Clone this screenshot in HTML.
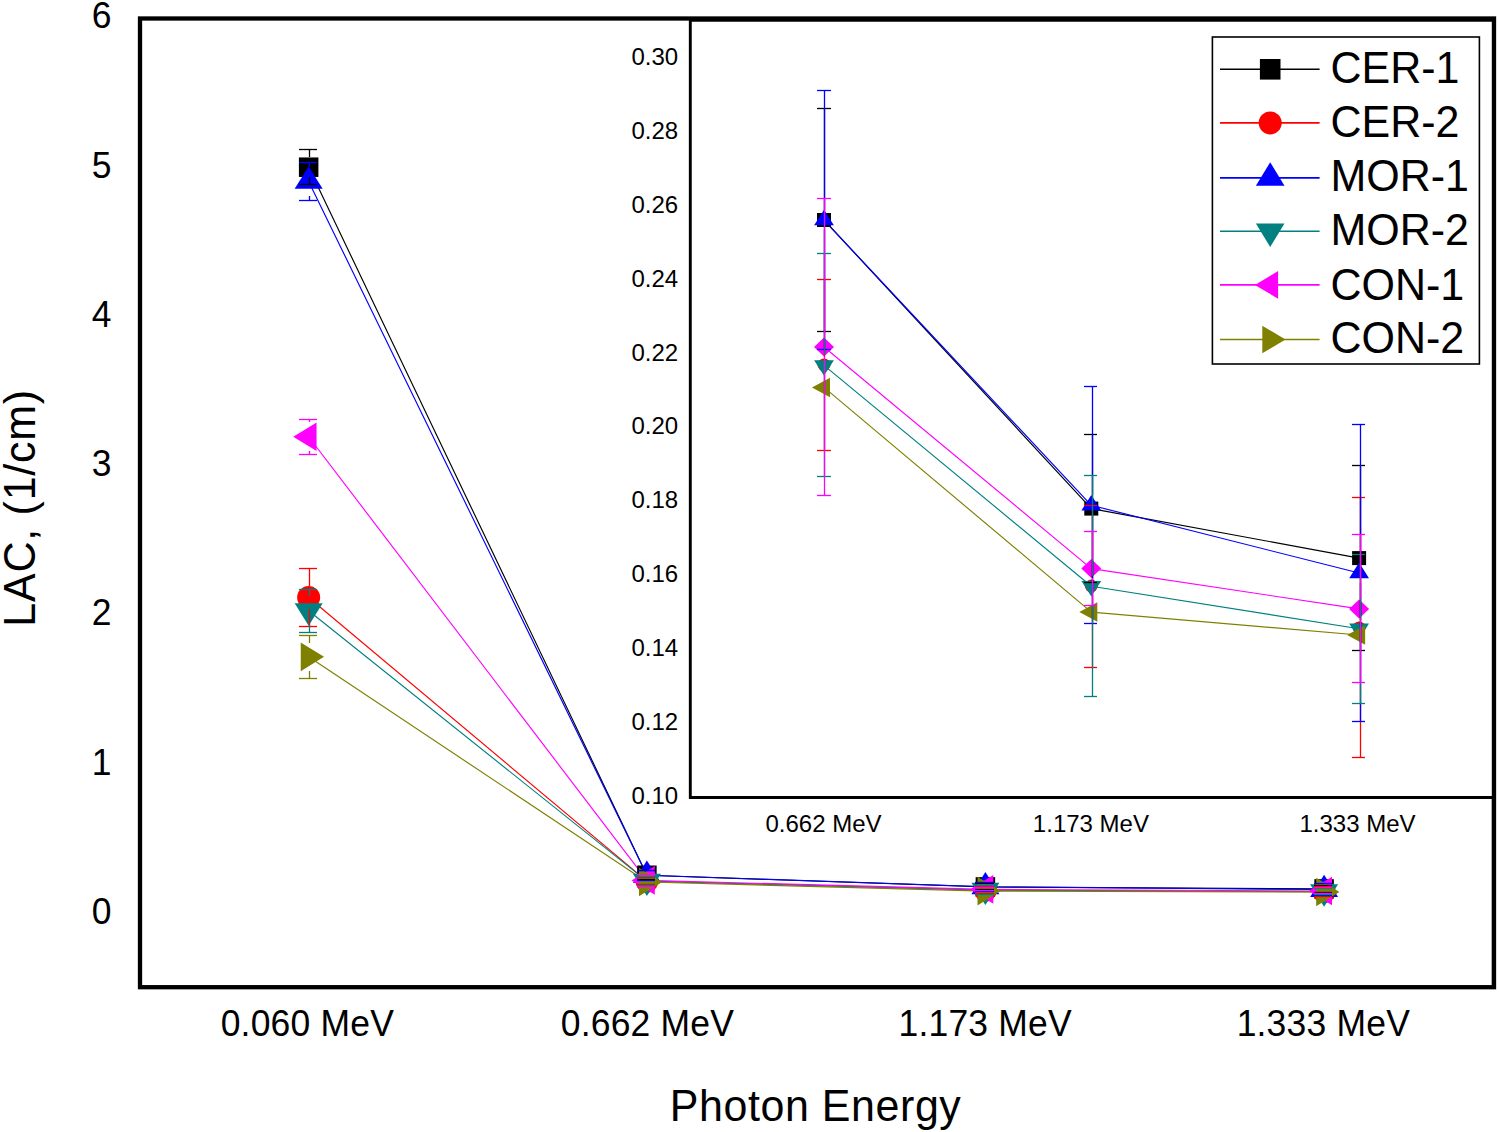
<!DOCTYPE html>
<html><head><meta charset="utf-8"><title>LAC chart</title>
<style>html,body{margin:0;padding:0;background:#fff;}body{width:1499px;height:1132px;overflow:hidden;}svg{display:block;}</style>
</head><body>
<svg width="1499" height="1132" viewBox="0 0 1499 1132">
<rect width="1499" height="1132" fill="#ffffff"/>
<text transform="translate(111.5,923.8) scale(1,1.02)" font-family='"Liberation Sans", sans-serif' font-size="35.5" text-anchor="end">0</text>
<text transform="translate(111.5,774.55) scale(1,1.02)" font-family='"Liberation Sans", sans-serif' font-size="35.5" text-anchor="end">1</text>
<text transform="translate(111.5,625.3) scale(1,1.02)" font-family='"Liberation Sans", sans-serif' font-size="35.5" text-anchor="end">2</text>
<text transform="translate(111.5,476.05) scale(1,1.02)" font-family='"Liberation Sans", sans-serif' font-size="35.5" text-anchor="end">3</text>
<text transform="translate(111.5,326.8) scale(1,1.02)" font-family='"Liberation Sans", sans-serif' font-size="35.5" text-anchor="end">4</text>
<text transform="translate(111.5,177.55) scale(1,1.02)" font-family='"Liberation Sans", sans-serif' font-size="35.5" text-anchor="end">5</text>
<text transform="translate(111.5,28.3) scale(1,1.02)" font-family='"Liberation Sans", sans-serif' font-size="35.5" text-anchor="end">6</text>
<text transform="translate(307.4,1035.9) scale(1,1.02)" font-family='"Liberation Sans", sans-serif' font-size="35.5" text-anchor="middle" letter-spacing="0.2">0.060 MeV</text>
<text transform="translate(647.45,1035.9) scale(1,1.02)" font-family='"Liberation Sans", sans-serif' font-size="35.5" text-anchor="middle" letter-spacing="0.2">0.662 MeV</text>
<text transform="translate(985.2,1035.9) scale(1,1.02)" font-family='"Liberation Sans", sans-serif' font-size="35.5" text-anchor="middle" letter-spacing="0.2">1.173 MeV</text>
<text transform="translate(1323.35,1035.9) scale(1,1.02)" font-family='"Liberation Sans", sans-serif' font-size="35.5" text-anchor="middle" letter-spacing="0.2">1.333 MeV</text>
<text transform="translate(815.6,1120.9) scale(1,1.035)" font-family='"Liberation Sans", sans-serif' font-size="43" text-anchor="middle" letter-spacing="0.55">Photon Energy</text>
<text transform="translate(35.2,507.9) rotate(-90) scale(1,1.035)" font-family='"Liberation Sans", sans-serif' font-size="43" text-anchor="middle" letter-spacing="0.75">LAC, (1/cm)</text>
<g>
<polyline points="308.65,167.2 646.9,875.27 985.4,886.93 1324.1,888.93" fill="none" stroke="#000000" stroke-width="1.15" stroke-linejoin="round"/>
<polyline points="308.65,597.5 646.9,881.12 985.4,890.05 1324.1,891.74" fill="none" stroke="#ff0000" stroke-width="1.15" stroke-linejoin="round"/>
<polyline points="308.65,181.4 646.9,875.27 985.4,886.79 1324.1,889.53" fill="none" stroke="#0000ff" stroke-width="1.15" stroke-linejoin="round"/>
<polyline points="308.65,610.8 646.9,881.14 985.4,890.06 1324.1,891.78" fill="none" stroke="#008080" stroke-width="1.15" stroke-linejoin="round"/>
<polyline points="308.65,436.75 646.9,880.4 985.4,889.35 1324.1,890.98" fill="none" stroke="#ff00ff" stroke-width="1.15" stroke-linejoin="round"/>
<polyline points="308.65,656.85 646.9,882.03 985.4,891.11 1324.1,892.03" fill="none" stroke="#808000" stroke-width="1.15" stroke-linejoin="round"/>
<rect x="298.9" y="157.45" width="19.5" height="19.5" fill="#000000"/>
<rect x="637.15" y="865.52" width="19.5" height="19.5" fill="#000000"/>
<rect x="975.65" y="877.18" width="19.5" height="19.5" fill="#000000"/>
<rect x="1314.35" y="879.18" width="19.5" height="19.5" fill="#000000"/>
<circle cx="308.65" cy="597.5" r="11.5" fill="#ff0000"/>
<circle cx="646.9" cy="881.12" r="11.5" fill="#ff0000"/>
<circle cx="985.4" cy="890.05" r="11.5" fill="#ff0000"/>
<circle cx="1324.1" cy="891.74" r="11.5" fill="#ff0000"/>
<polygon points="308.65,166.53 322.65,188.83 294.65,188.83" fill="#0000ff"/>
<polygon points="646.9,860.41 660.9,882.71 632.9,882.71" fill="#0000ff"/>
<polygon points="985.4,871.93 999.4,894.23 971.4,894.23" fill="#0000ff"/>
<polygon points="1324.1,874.66 1338.1,896.96 1310.1,896.96" fill="#0000ff"/>
<polygon points="308.65,625.67 322.65,603.37 294.65,603.37" fill="#008080"/>
<polygon points="646.9,896.01 660.9,873.71 632.9,873.71" fill="#008080"/>
<polygon points="985.4,904.93 999.4,882.63 971.4,882.63" fill="#008080"/>
<polygon points="1324.1,906.65 1338.1,884.35 1310.1,884.35" fill="#008080"/>
<polygon points="293.28,436.75 316.58,422.45 316.58,451.05" fill="#ff00ff"/>
<polygon points="631.53,880.4 654.83,866.1 654.83,894.7" fill="#ff00ff"/>
<polygon points="970.03,889.35 993.33,875.05 993.33,903.65" fill="#ff00ff"/>
<polygon points="1308.73,890.98 1332.03,876.68 1332.03,905.28" fill="#ff00ff"/>
<polygon points="324.02,656.85 300.72,642.55 300.72,671.15" fill="#808000"/>
<polygon points="662.27,882.03 638.97,867.73 638.97,896.33" fill="#808000"/>
<polygon points="1000.77,891.11 977.47,876.81 977.47,905.41" fill="#808000"/>
<polygon points="1339.47,892.03 1316.17,877.73 1316.17,906.33" fill="#808000"/>
<g stroke="#000000" stroke-width="1.3"><line x1="309.5" y1="157" x2="309.5" y2="149.5"/><line x1="299" y1="149.5" x2="317" y2="149.5"/><line x1="309.5" y1="177" x2="309.5" y2="184.5"/><line x1="299" y1="184.5" x2="317" y2="184.5"/></g>
<g stroke="#000000" stroke-width="1.3"><line x1="637" y1="870.5" x2="655" y2="870.5"/><line x1="637" y1="879.5" x2="655" y2="879.5"/></g>
<g stroke="#000000" stroke-width="1.3"><line x1="975" y1="883.5" x2="994" y2="883.5"/><line x1="975" y1="889.5" x2="994" y2="889.5"/></g>
<g stroke="#000000" stroke-width="1.3"><line x1="1314" y1="885.5" x2="1332" y2="885.5"/><line x1="1314" y1="892.5" x2="1332" y2="892.5"/></g>
<g stroke="#ff0000" stroke-width="1.3"><line x1="309.5" y1="586" x2="309.5" y2="568.5"/><line x1="299" y1="568.5" x2="317" y2="568.5"/><line x1="309.5" y1="609" x2="309.5" y2="626.5"/><line x1="299" y1="626.5" x2="317" y2="626.5"/></g>
<g stroke="#ff0000" stroke-width="1.3"><line x1="637" y1="877.5" x2="655" y2="877.5"/><line x1="637" y1="884.5" x2="655" y2="884.5"/></g>
<g stroke="#ff0000" stroke-width="1.3"><line x1="975" y1="886.5" x2="994" y2="886.5"/><line x1="975" y1="893.5" x2="994" y2="893.5"/></g>
<g stroke="#ff0000" stroke-width="1.3"><line x1="1314" y1="886.5" x2="1332" y2="886.5"/><line x1="1314" y1="896.5" x2="1332" y2="896.5"/></g>
<g stroke="#0000ff" stroke-width="1.3"><line x1="309.5" y1="167" x2="309.5" y2="162.5"/><line x1="299" y1="162.5" x2="317" y2="162.5"/><line x1="309.5" y1="196" x2="309.5" y2="200.5"/><line x1="299" y1="200.5" x2="317" y2="200.5"/></g>
<g stroke="#0000ff" stroke-width="1.3"><line x1="637" y1="870.5" x2="655" y2="870.5"/><line x1="637" y1="880.5" x2="655" y2="880.5"/></g>
<g stroke="#0000ff" stroke-width="1.3"><line x1="975" y1="882.5" x2="994" y2="882.5"/><line x1="975" y1="891.5" x2="994" y2="891.5"/></g>
<g stroke="#0000ff" stroke-width="1.3"><line x1="1314" y1="883.5" x2="1332" y2="883.5"/><line x1="1314" y1="895.5" x2="1332" y2="895.5"/></g>
<g stroke="#008080" stroke-width="1.3"><line x1="309.5" y1="596" x2="309.5" y2="589.5"/><line x1="299" y1="589.5" x2="317" y2="589.5"/><line x1="309.5" y1="625" x2="309.5" y2="632.5"/><line x1="299" y1="632.5" x2="317" y2="632.5"/></g>
<g stroke="#008080" stroke-width="1.3"><line x1="637" y1="876.5" x2="655" y2="876.5"/><line x1="637" y1="885.5" x2="655" y2="885.5"/></g>
<g stroke="#008080" stroke-width="1.3"><line x1="975" y1="885.5" x2="994" y2="885.5"/><line x1="975" y1="894.5" x2="994" y2="894.5"/></g>
<g stroke="#008080" stroke-width="1.3"><line x1="1314" y1="888.5" x2="1332" y2="888.5"/><line x1="1314" y1="894.5" x2="1332" y2="894.5"/></g>
<g stroke="#ff00ff" stroke-width="1.3"><line x1="309.5" y1="422" x2="309.5" y2="419.5"/><line x1="299" y1="419.5" x2="317" y2="419.5"/><line x1="309.5" y1="451" x2="309.5" y2="454.5"/><line x1="299" y1="454.5" x2="317" y2="454.5"/></g>
<g stroke="#ff00ff" stroke-width="1.3"><line x1="637" y1="874.5" x2="655" y2="874.5"/><line x1="637" y1="886.5" x2="655" y2="886.5"/></g>
<g stroke="#ff00ff" stroke-width="1.3"><line x1="975" y1="887.5" x2="994" y2="887.5"/><line x1="975" y1="890.5" x2="994" y2="890.5"/></g>
<g stroke="#ff00ff" stroke-width="1.3"><line x1="1314" y1="887.5" x2="1332" y2="887.5"/><line x1="1314" y1="893.5" x2="1332" y2="893.5"/></g>
<g stroke="#808000" stroke-width="1.3"><line x1="309.5" y1="643" x2="309.5" y2="635.5"/><line x1="299" y1="635.5" x2="317" y2="635.5"/><line x1="309.5" y1="671" x2="309.5" y2="678.5"/><line x1="299" y1="678.5" x2="317" y2="678.5"/></g>



</g>
<rect x="140" y="18.5" width="1354" height="968.7" fill="none" stroke="#000" stroke-width="4.3"/>
<rect x="690.3" y="20.5" width="803.7" height="777" fill="#ffffff"/>
<g font-family='"Liberation Sans", sans-serif' font-size="24" fill="#000" text-anchor="end">
<text x="678.2" y="803.6">0.10</text>
<text x="678.2" y="729.75">0.12</text>
<text x="678.2" y="655.9">0.14</text>
<text x="678.2" y="582.05">0.16</text>
<text x="678.2" y="508.2">0.18</text>
<text x="678.2" y="434.35">0.20</text>
<text x="678.2" y="360.5">0.22</text>
<text x="678.2" y="286.65">0.24</text>
<text x="678.2" y="212.8">0.26</text>
<text x="678.2" y="138.95">0.28</text>
<text x="678.2" y="65.1">0.30</text>
</g>
<g font-family='"Liberation Sans", sans-serif' font-size="24" fill="#000" text-anchor="middle">
<text x="823.55" y="831.5">0.662 MeV</text>
<text x="1090.9" y="831.5">1.173 MeV</text>
<text x="1357.55" y="831.5">1.333 MeV</text>
</g>
<polyline points="824,220 1091.3,508.6 1359.1,558.1" fill="none" stroke="#000000" stroke-width="1.15" stroke-linejoin="round"/>
<polyline points="824,220.1 1091.3,505.3 1359.1,573" fill="none" stroke="#0000ff" stroke-width="1.15" stroke-linejoin="round"/>
<polyline points="824,365.4 1091.3,586.2 1359.1,628.75" fill="none" stroke="#008080" stroke-width="1.15" stroke-linejoin="round"/>
<polyline points="824,347 1091.3,568.6 1359.1,608.9" fill="none" stroke="#ff00ff" stroke-width="1.15" stroke-linejoin="round"/>
<polyline points="824,387.4 1091.3,612.1 1359.1,635" fill="none" stroke="#808000" stroke-width="1.15" stroke-linejoin="round"/>
<rect x="817" y="213" width="14" height="14" fill="#000000"/>
<rect x="1084.3" y="501.6" width="14" height="14" fill="#000000"/>
<rect x="1352.1" y="551.1" width="14" height="14" fill="#000000"/>
<circle cx="824" cy="364.8" r="6.4" fill="#ff0000"/>
<circle cx="1091.3" cy="586" r="6.4" fill="#ff0000"/>
<circle cx="1359.1" cy="627.8" r="6.4" fill="#ff0000"/>
<polygon points="824,209.7 833.9,225.3 814.1,225.3" fill="#0000ff"/>
<polygon points="1091.3,494.9 1101.2,510.5 1081.4,510.5" fill="#0000ff"/>
<polygon points="1359.1,562.6 1369,578.2 1349.2,578.2" fill="#0000ff"/>
<polygon points="824,375.8 833.9,360.2 814.1,360.2" fill="#008080"/>
<polygon points="1091.3,596.6 1101.2,581 1081.4,581" fill="#008080"/>
<polygon points="1359.1,639.15 1369,623.55 1349.2,623.55" fill="#008080"/>
<polygon points="824,337.5 834,347 824,356.5 814,347" fill="#ff00ff"/>
<polygon points="1091.3,559.1 1101.3,568.6 1091.3,578.1 1081.3,568.6" fill="#ff00ff"/>
<polygon points="1359.1,599.4 1369.1,608.9 1359.1,618.4 1349.1,608.9" fill="#ff00ff"/>
<polygon points="812,387.4 830,377.65 830,397.15" fill="#808000"/>
<polygon points="1079.3,612.1 1097.3,602.35 1097.3,621.85" fill="#808000"/>
<polygon points="1347.1,635 1365.1,625.25 1365.1,644.75" fill="#808000"/>
<g stroke="#000000" stroke-width="1.3"><line x1="824.5" y1="213" x2="824.5" y2="108.5"/><line x1="817" y1="108.5" x2="831" y2="108.5"/><line x1="824.5" y1="227" x2="824.5" y2="331.5"/><line x1="817" y1="331.5" x2="831" y2="331.5"/></g>
<g stroke="#000000" stroke-width="1.3"><line x1="1092.5" y1="502" x2="1092.5" y2="434.5"/><line x1="1084" y1="434.5" x2="1097" y2="434.5"/><line x1="1092.5" y1="516" x2="1092.5" y2="582.5"/><line x1="1084" y1="582.5" x2="1097" y2="582.5"/></g>
<g stroke="#000000" stroke-width="1.3"><line x1="1360.5" y1="551" x2="1360.5" y2="465.5"/><line x1="1352" y1="465.5" x2="1365" y2="465.5"/><line x1="1360.5" y1="565" x2="1360.5" y2="650.5"/><line x1="1352" y1="650.5" x2="1365" y2="650.5"/></g>
<g stroke="#ff0000" stroke-width="1.3"><line x1="824.5" y1="357" x2="824.5" y2="279.5"/><line x1="817" y1="279.5" x2="831" y2="279.5"/><line x1="824.5" y1="373" x2="824.5" y2="450.5"/><line x1="817" y1="450.5" x2="831" y2="450.5"/></g>
<g stroke="#ff0000" stroke-width="1.3"><line x1="1092.5" y1="578" x2="1092.5" y2="505.5"/><line x1="1084" y1="505.5" x2="1097" y2="505.5"/><line x1="1092.5" y1="594" x2="1092.5" y2="667.5"/><line x1="1084" y1="667.5" x2="1097" y2="667.5"/></g>
<g stroke="#ff0000" stroke-width="1.3"><line x1="1360.5" y1="620" x2="1360.5" y2="497.5"/><line x1="1352" y1="497.5" x2="1365" y2="497.5"/><line x1="1360.5" y1="636" x2="1360.5" y2="757.5"/><line x1="1352" y1="757.5" x2="1365" y2="757.5"/></g>
<g stroke="#0000ff" stroke-width="1.3"><line x1="824.5" y1="210" x2="824.5" y2="90.5"/><line x1="817" y1="90.5" x2="831" y2="90.5"/><line x1="824.5" y1="230" x2="824.5" y2="349.5"/><line x1="817" y1="349.5" x2="831" y2="349.5"/></g>
<g stroke="#0000ff" stroke-width="1.3"><line x1="1092.5" y1="495" x2="1092.5" y2="386.5"/><line x1="1084" y1="386.5" x2="1097" y2="386.5"/><line x1="1092.5" y1="515" x2="1092.5" y2="623.5"/><line x1="1084" y1="623.5" x2="1097" y2="623.5"/></g>
<g stroke="#0000ff" stroke-width="1.3"><line x1="1360.5" y1="563" x2="1360.5" y2="424.5"/><line x1="1352" y1="424.5" x2="1365" y2="424.5"/><line x1="1360.5" y1="583" x2="1360.5" y2="721.5"/><line x1="1352" y1="721.5" x2="1365" y2="721.5"/></g>
<g stroke="#008080" stroke-width="1.3"><line x1="824.5" y1="355" x2="824.5" y2="253.5"/><line x1="817" y1="253.5" x2="831" y2="253.5"/><line x1="824.5" y1="375" x2="824.5" y2="476.5"/><line x1="817" y1="476.5" x2="831" y2="476.5"/></g>
<g stroke="#008080" stroke-width="1.3"><line x1="1092.5" y1="576" x2="1092.5" y2="475.5"/><line x1="1084" y1="475.5" x2="1097" y2="475.5"/><line x1="1092.5" y1="596" x2="1092.5" y2="696.5"/><line x1="1084" y1="696.5" x2="1097" y2="696.5"/></g>
<g stroke="#008080" stroke-width="1.3"><line x1="1360.5" y1="619" x2="1360.5" y2="554.5"/><line x1="1352" y1="554.5" x2="1365" y2="554.5"/><line x1="1360.5" y1="639" x2="1360.5" y2="703.5"/><line x1="1352" y1="703.5" x2="1365" y2="703.5"/></g>
<g stroke="#ff00ff" stroke-width="1.3"><line x1="824.5" y1="338" x2="824.5" y2="198.5"/><line x1="817" y1="198.5" x2="831" y2="198.5"/><line x1="824.5" y1="356" x2="824.5" y2="495.5"/><line x1="817" y1="495.5" x2="831" y2="495.5"/></g>
<g stroke="#ff00ff" stroke-width="1.3"><line x1="1092.5" y1="559" x2="1092.5" y2="531.5"/><line x1="1084" y1="531.5" x2="1097" y2="531.5"/><line x1="1092.5" y1="578" x2="1092.5" y2="605.5"/><line x1="1084" y1="605.5" x2="1097" y2="605.5"/></g>
<g stroke="#ff00ff" stroke-width="1.3"><line x1="1360.5" y1="599" x2="1360.5" y2="534.5"/><line x1="1352" y1="534.5" x2="1365" y2="534.5"/><line x1="1360.5" y1="618" x2="1360.5" y2="682.5"/><line x1="1352" y1="682.5" x2="1365" y2="682.5"/></g>



<path d="M690.3 19 V797.5 H1494" fill="none" stroke="#000" stroke-width="2.9"/>
<line x1="690" y1="20.3" x2="1494" y2="20.3" stroke="#000" stroke-width="3"/>
<line x1="1493.9" y1="18" x2="1493.9" y2="987" stroke="#000" stroke-width="4.2"/>
<rect x="1212.4" y="37" width="267" height="327" fill="#ffffff" stroke="#000" stroke-width="1.6"/>
<g>
<line x1="1220" y1="69.3" x2="1319.6" y2="69.3" stroke="#000000" stroke-width="1.6"/>
<rect x="1259.9" y="59" width="20.6" height="20.6" fill="#000000"/>
<text transform="translate(1330.5,82.6) scale(1,1.035)" font-family='"Liberation Sans", sans-serif' font-size="43" text-anchor="start">CER-1</text>
<line x1="1220" y1="122.9" x2="1319.6" y2="122.9" stroke="#ff0000" stroke-width="1.6"/>
<circle cx="1270.2" cy="122.9" r="11.5" fill="#ff0000"/>
<text transform="translate(1330.5,137.3) scale(1,1.035)" font-family='"Liberation Sans", sans-serif' font-size="43" text-anchor="start">CER-2</text>
<line x1="1220" y1="177.9" x2="1319.6" y2="177.9" stroke="#0000ff" stroke-width="1.6"/>
<polygon points="1270.2,162.17 1284.5,185.77 1255.9,185.77" fill="#0000ff"/>
<text transform="translate(1330.5,191.2) scale(1,1.035)" font-family='"Liberation Sans", sans-serif' font-size="43" text-anchor="start">MOR-1</text>
<line x1="1220" y1="231.3" x2="1319.6" y2="231.3" stroke="#008080" stroke-width="1.6"/>
<polygon points="1270.2,247.03 1284.5,223.43 1255.9,223.43" fill="#008080"/>
<text transform="translate(1330.5,245.1) scale(1,1.035)" font-family='"Liberation Sans", sans-serif' font-size="43" text-anchor="start">MOR-2</text>
<line x1="1220" y1="284.9" x2="1319.6" y2="284.9" stroke="#ff00ff" stroke-width="1.6"/>
<polygon points="1254.9,284.9 1278.1,271.1 1278.1,298.7" fill="#ff00ff"/>
<text transform="translate(1330.5,299.7) scale(1,1.035)" font-family='"Liberation Sans", sans-serif' font-size="43" text-anchor="start">CON-1</text>
<line x1="1220" y1="339.5" x2="1319.6" y2="339.5" stroke="#808000" stroke-width="1.6"/>
<polygon points="1285.5,339.5 1262.3,325.7 1262.3,353.3" fill="#808000"/>
<text transform="translate(1330.5,353.1) scale(1,1.035)" font-family='"Liberation Sans", sans-serif' font-size="43" text-anchor="start">CON-2</text>
</g>
</svg>
</body></html>
